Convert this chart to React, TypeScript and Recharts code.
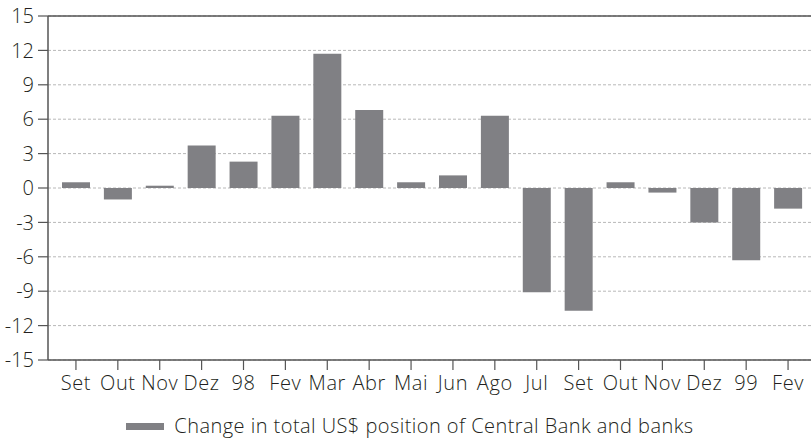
import React from "react";
import {
  BarChart,
  Bar,
  XAxis,
  YAxis,
  CartesianGrid,
  ReferenceLine,
  Legend,
} from "recharts";

const categories = [
  "Set", "Out", "Nov", "Dez", "98", "Fev", "Mar", "Abr", "Mai",
  "Jun", "Ago", "Jul", "Set", "Out", "Nov", "Dez", "99", "Fev",
];
const changeValues = [
  0.5, -1.0, 0.2, 3.7, 2.3, 6.3, 11.7, 6.8, 0.5,
  1.1, 6.3, -9.1, -10.7, 0.5, -0.4, -3.0, -6.3, -1.8,
];
const yTicks = [-15, -12, -9, -6, -3, 0, 3, 6, 9, 12, 15];
const seriesName = "Change in total US$ position of Central Bank and banks";

const data = categories.map((c, i) => ({ month: c, value: changeValues[i] }));

const FONT = "'Open Sans', 'Liberation Sans', sans-serif";
const TEXT = "#231f20";
const AXIS = "#555555";
const BAR = "#808084";

const LegendContent = () => (
  <div
    style={{
      height: 24,
      display: "flex",
      alignItems: "center",
      justifyContent: "center",
      paddingLeft: 9,
      fontFamily: FONT,
      fontSize: 20,
      fontWeight: 300,
      letterSpacing: "0.45px",
      color: TEXT,
    }}
  >
    <span
      style={{ display: "inline-block", width: 38, height: 7, background: BAR, marginRight: 10 }}
    />
    <span style={{ lineHeight: "20px" }}>{seriesName}</span>
  </div>
);

const tickStyle = {
  fontSize: 20,
  fill: TEXT,
  fontFamily: FONT,
  fontWeight: 300,
  letterSpacing: 0.6,
};

export default function App() {
  return (
    <div style={{ position: "absolute", left: 0, top: 0, width: 811, height: 438, fontFamily: FONT }}>
      <BarChart
        width={811}
        height={438}
        data={data}
        margin={{ top: 16, right: 0, left: 0, bottom: 0 }}
      >
        <CartesianGrid vertical={false} stroke="#b8b8b8" strokeDasharray="3 2" />
        <XAxis
          dataKey="month"
          height={54}
          padding={{ left: 7, right: 2 }}
          interval={0}
          tickSize={10}
          tickMargin={6}
          axisLine={{ stroke: AXIS, strokeWidth: 1.5 }}
          tickLine={{ stroke: AXIS, strokeWidth: 1.2 }}
          tick={tickStyle}
        />
        <YAxis
          width={48}
          domain={[-15, 15]}
          ticks={yTicks}
          interval={0}
          tickSize={10}
          tickMargin={4}
          axisLine={{ stroke: AXIS, strokeWidth: 1.5 }}
          tickLine={{ stroke: AXIS, strokeWidth: 1.2 }}
          tick={{ ...tickStyle, letterSpacing: 0 }}
        />
        <ReferenceLine y={15} stroke={AXIS} strokeWidth={1.5} ifOverflow="extendDomain" />
        <Bar dataKey="value" name={seriesName} fill={BAR} barSize={28} isAnimationActive={false} />
        <Legend verticalAlign="bottom" align="center" content={<LegendContent />} />
      </BarChart>
    </div>
  );
}
